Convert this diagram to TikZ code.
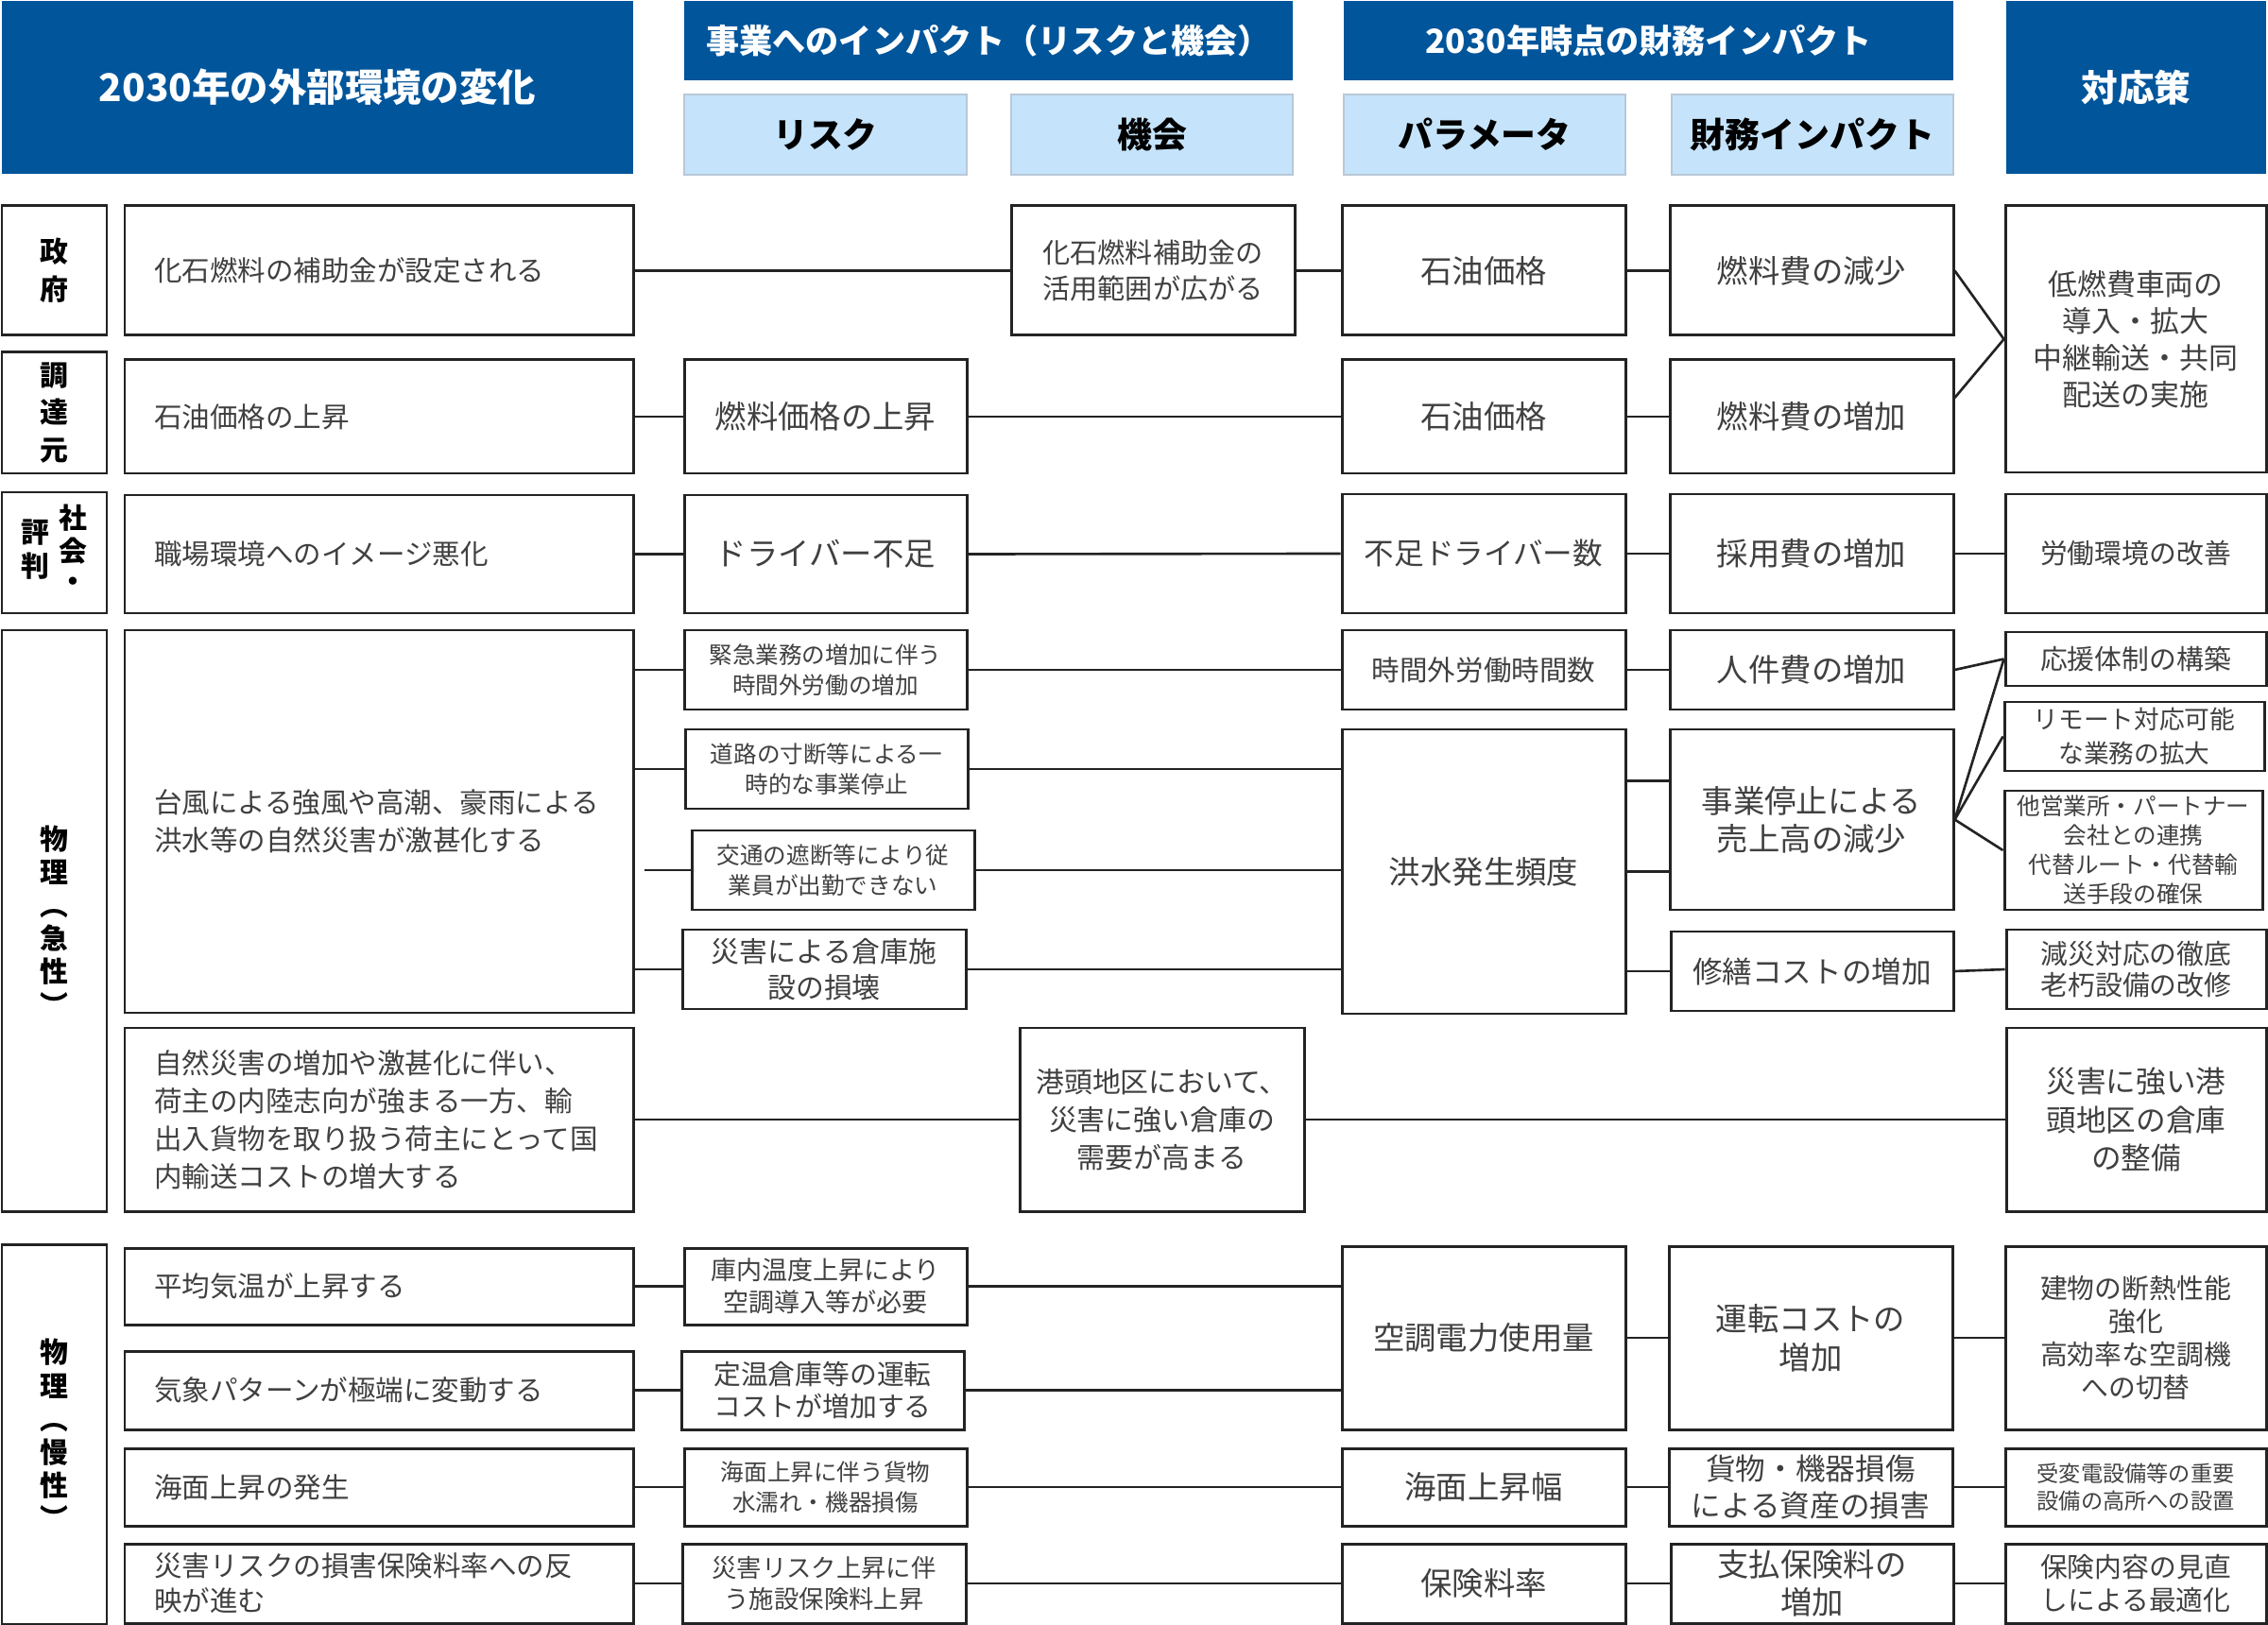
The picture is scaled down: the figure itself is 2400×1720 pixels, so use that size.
\documentclass[tikz,border=0pt]{standalone}
\usepackage{fontspec}
\setmainfont{Noto Sans CJK JP}
\usetikzlibrary{calc}
\definecolor{hdark}{RGB}{0,85,155}
\definecolor{hlight}{RGB}{197,228,251}
\definecolor{hedge}{RGB}{185,200,215}
\definecolor{txtgray}{RGB}{64,64,64}
\definecolor{lnblack}{RGB}{35,35,35}
\newcommand\fsz[2]{\fontsize{#1}{#2}\selectfont}
\tikzset{
  span/.style args={#1/#2/#3/#4}{at={({(#1+#3)/2},{(#2+#4)/2})},
    minimum width={(#3-#1)*0.1mm}, minimum height={(#4-#2)*0.1mm}},
  cell/.style={draw=lnblack, line width=0.85pt, inner sep=0pt, align=center, text=txtgray},
  envcell/.style={cell, align=left, text width=47.6mm, font=\fsz{8.4}{11.4}},
  catcell/.style={cell, text=black, font=\bfseries\fsz{8.5}{11.3}},
  midcell/.style={cell, font=\fsz{9.5}{11.4}},
  smallcell/.style={cell, font=\fsz{7}{9.1}},
  head/.style={fill=hdark, inner sep=0pt, text=white, font=\bfseries\fsz{10}{12}},
  subhead/.style={fill=hlight, draw=hedge, line width=0.6pt, inner sep=0pt, font=\bfseries\fsz{10.5}{12}},
  link/.style={draw=lnblack, line width=0.75pt},
}
\begin{document}
\begin{tikzpicture}[x=0.1mm, y=-0.1mm]
  \useasboundingbox (0,0) rectangle (2400,1720);
  % headers
  \node[head, span=2/1/670/184, font=\bfseries\fsz{11.5}{13}] (hEnv) {2030年の外部環境の変化};
  \node[head, span=724/1/1368/85] (hBiz) {事業へのインパクト（リスクと機会）};
  \node[subhead, span=724/100/1023/185] (hRisk) {リスク};
  \node[subhead, span=1070/100/1368/185] (hOpp) {機会};
  \node[head, span=1422/1/2067/85] (hFin) {2030年時点の財務インパクト};
  \node[subhead, span=1422/100/1720/185] (hPar) {パラメータ};
  \node[subhead, span=1769/100/2067/185] (hImp) {財務インパクト};
  \node[head, span=2123/1/2398/184, font=\bfseries\fsz{11}{13}] (hAct) {対応策};

  % government
  \node[catcell, span=2/218/113/355] (gCat) {政\\府};
  \node[envcell, span=132/218/670/355] (gEnv) {化石燃料の補助金が設定される};
  \node[cell, span=1070/218/1370/355, font=\fsz{8.3}{11}] (gOpp) {化石燃料補助金の\\活用範囲が広がる};
  \node[midcell, span=1420/218/1720/355] (gPar) {石油価格};
  \node[midcell, span=1767/218/2067/355] (gImp) {燃料費の減少};
  \node[cell, span=2122/218/2398/500, font=\fsz{8.8}{11.1}] (fuelAct) {低燃費車両の\\導入・拡大\\中継輸送・共同\\配送の実施};

  % procurement
  \node[catcell, span=2/373/113/501] (pCat) {調\\達\\元};
  \node[envcell, span=132/381/670/501] (pEnv) {石油価格の上昇};
  \node[midcell, span=724/381/1023/501] (pRisk) {燃料価格の上昇};
  \node[midcell, span=1420/381/1720/501] (pPar) {石油価格};
  \node[midcell, span=1767/381/2067/501] (pImp) {燃料費の増加};

  % society
  \node[catcell, span=2/521/113/649, font=\bfseries\fsz{8.5}{9.1}] (sCat)
    {\begin{tabular}{@{}c@{}}評\\判\end{tabular}\hspace{1mm}\begin{tabular}{@{}c@{}}社\\会\\・\end{tabular}};
  \node[envcell, span=132/524/670/649] (sEnv) {職場環境へのイメージ悪化};
  \node[midcell, span=724/524/1023/649] (sRisk) {ドライバー不足};
  \node[midcell, span=1420/523/1720/649, font=\fsz{9}{11.4}] (sPar) {不足ドライバー数};
  \node[midcell, span=1767/523/2067/649] (sImp) {採用費の増加};
  \node[cell, span=2122/523/2398/649, font=\fsz{8.2}{11}] (sAct) {労働環境の改善};

  % physical, acute
  \node[catcell, span=2/667/113/1282, font=\bfseries\fsz{8.5}{10}] (aCat) {物\\理\\︵\\急\\性\\︶};
  \node[envcell, span=132/667/670/1072] (aEnv) {台風による強風や高潮、豪雨による\\洪水等の自然災害が激甚化する};
  \node[smallcell, span=724/667/1023/751] (aRisk1) {緊急業務の増加に伴う\\時間外労働の増加};
  \node[smallcell, span=725/772/1024/856] (aRisk2) {道路の寸断等による一\\時的な事業停止};
  \node[smallcell, span=732/879/1031/963] (aRisk3) {交通の遮断等により従\\業員が出勤できない};
  \node[cell, span=722/984/1022/1068, font=\fsz{8.5}{10.9}] (aRisk4) {災害による倉庫施\\設の損壊};
  \node[cell, span=1420/667/1720/751, font=\fsz{8.4}{11}] (aPar1) {時間外労働時間数};
  \node[midcell, span=1420/772/1720/1073] (aPar2) {洪水発生頻度};
  \node[midcell, span=1767/667/2067/751] (aImp1) {人件費の増加};
  \node[midcell, span=1767/772/2067/963] (aImp2) {事業停止による\\売上高の減少};
  \node[midcell, span=1768/986/2067/1070, font=\fsz{9}{11.4}] (aImp3) {修繕コストの増加};
  \node[cell, span=2122/669/2398/726, font=\fsz{8.2}{11}] (aAct1) {応援体制の構築};
  \node[cell, span=2121/743/2396/816, font=\fsz{7.6}{10.2}] (aAct2) {リモート対応可能\\な業務の拡大};
  \node[cell, span=2121/837/2394/963, font=\fsz{7}{8.8}] (aAct3) {他営業所・パートナー\\会社との連携\\代替ルート・代替輸\\送手段の確保};
  \node[cell, span=2123/984/2398/1068, font=\fsz{8.2}{9.6}] (aAct4) {減災対応の徹底\\老朽設備の改修};
  \node[envcell, span=132/1088/670/1282] (portEnv) {自然災害の増加や激甚化に伴い、\\荷主の内陸志向が強まる一方、輸\\出入貨物を取り扱う荷主にとって国\\内輸送コストの増大する};
  \node[cell, span=1079/1088/1380/1282, font=\fsz{8.5}{11.3}] (portOpp) {港頭地区において、\\災害に強い倉庫の\\需要が高まる};
  \node[cell, span=2123/1088/2398/1282, font=\fsz{9}{11.4}] (portAct) {災害に強い港\\頭地区の倉庫\\の整備};

  % physical, chronic
  \node[catcell, span=2/1317/113/1719, font=\bfseries\fsz{8.5}{10}] (cCat) {物\\理\\︵\\慢\\性\\︶};
  \node[envcell, span=132/1321/670/1402] (cEnv1) {平均気温が上昇する};
  \node[envcell, span=132/1430/670/1513] (cEnv2) {気象パターンが極端に変動する};
  \node[envcell, span=132/1533/670/1615] (cEnv3) {海面上昇の発生};
  \node[envcell, span=132/1634/670/1718, font=\fsz{8.4}{10.4}] (cEnv4) {災害リスクの損害保険料率への反\\映が進む};
  \node[cell, span=724/1321/1023/1402, font=\fsz{7.7}{9.6}] (cRisk1) {庫内温度上昇により\\空調導入等が必要};
  \node[cell, span=721/1430/1020/1513, font=\fsz{8.2}{9.6}] (cRisk2) {定温倉庫等の運転\\コストが増加する};
  \node[smallcell, span=724/1533/1023/1615] (cRisk3) {海面上昇に伴う貨物\\水濡れ・機器損傷};
  \node[cell, span=722/1634/1022/1718, font=\fsz{7.5}{9.6}] (cRisk4) {災害リスク上昇に伴\\う施設保険料上昇};
  \node[midcell, span=1420/1319/1720/1513] (cPar1) {空調電力使用量};
  \node[midcell, span=1420/1533/1720/1615] (cPar2) {海面上昇幅};
  \node[midcell, span=1420/1634/1720/1718] (cPar3) {保険料率};
  \node[midcell, span=1766/1319/2066/1513, font=\fsz{9.5}{11.7}] (cImp1) {運転コストの\\増加};
  \node[midcell, span=1766/1533/2066/1615, font=\fsz{9}{11.2}] (cImp2) {貨物・機器損傷\\による資産の損害};
  \node[midcell, span=1768/1634/2067/1718] (cImp3) {支払保険料の\\増加};
  \node[cell, span=2122/1319/2398/1513, font=\fsz{8.2}{10}] (cAct1) {建物の断熱性能\\強化\\高効率な空調機\\への切替};
  \node[cell, span=2122/1533/2398/1615, font=\fsz{6.6}{8.3}] (cAct2) {受変電設備等の重要\\設備の高所への設置};
  \node[cell, span=2122/1634/2398/1718, font=\fsz{8.2}{9.9}] (cAct3) {保険内容の見直\\しによる最適化};

  \begin{scope}[link]
    \draw (gEnv.east) -- (gOpp.west);
    \draw (gOpp.east) -- (gPar.west);
    \draw (gPar.east) -- (gImp.west);
    \draw (gImp.east) -- (fuelAct.west);
    \draw ([yshift=2mm]pImp.east) -- (fuelAct.west);
    \draw (pEnv.east) -- (pRisk.west);
    \draw (pRisk.east) -- (pPar.west);
    \draw (pPar.east) -- (pImp.west);
    \draw (sEnv.east) -- (sRisk.west);
    \draw (sRisk.east) -- (sPar.west);
    \draw (sPar.east) -- (sImp.west);
    \draw (sImp.east) -- (sAct.west);
    \draw (aEnv.east |- aRisk1.west) -- (aRisk1.west);
    \draw (aEnv.east |- aRisk2.west) -- (aRisk2.west);
    \draw ($(aEnv.east |- aRisk3.west)+(10,0)$) -- (aRisk3.west);
    \draw (aEnv.east |- aRisk4.west) -- (aRisk4.west);
    \draw (aRisk1.east) -- (aPar1.west);
    \draw (aRisk2.east) -- (aRisk2.east -| aPar2.west);
    \draw (aRisk3.east) -- (aRisk3.east -| aPar2.west);
    \draw (aRisk4.east) -- (aRisk4.east -| aPar2.west);
    \draw (aPar1.east) -- (aImp1.west);
    \draw ($(aPar2.north east)+(0,56)$) coordinate (q) -- (q -| aImp2.west);
    \draw (aPar2.east) -- (aPar2.east -| aImp2.west);
    \draw (aPar2.east |- aImp3.west) -- (aImp3.west);
    \draw (aImp3.east) -- (aAct4.west);
    \draw (aImp1.east) -- (aAct1.west);
    \draw (aImp2.east) -- (aAct1.west);
    \draw (aImp2.east) -- (aAct2.west);
    \draw (aImp2.east) -- (aAct3.west);
    \draw (portEnv.east) -- (portOpp.west);
    \draw (portOpp.east) -- (portAct.west);
    \draw (cEnv1.east) -- (cRisk1.west);
    \draw (cEnv2.east) -- (cRisk2.west);
    \draw (cEnv3.east) -- (cRisk3.west);
    \draw (cEnv4.east) -- (cRisk4.west);
    \draw (cRisk1.east) -- (cRisk1.east -| cPar1.west);
    \draw (cRisk2.east) -- (cRisk2.east -| cPar1.west);
    \draw (cPar1.east) -- (cImp1.west);
    \draw (cImp1.east) -- (cAct1.west);
    \draw (cRisk3.east) -- (cPar2.west);
    \draw (cPar2.east) -- (cImp2.west);
    \draw (cImp2.east) -- (cAct2.west);
    \draw (cRisk4.east) -- (cPar3.west);
    \draw (cPar3.east) -- (cImp3.west);
    \draw (cImp3.east) -- (cAct3.west);
  \end{scope}
\end{tikzpicture}
\end{document}
